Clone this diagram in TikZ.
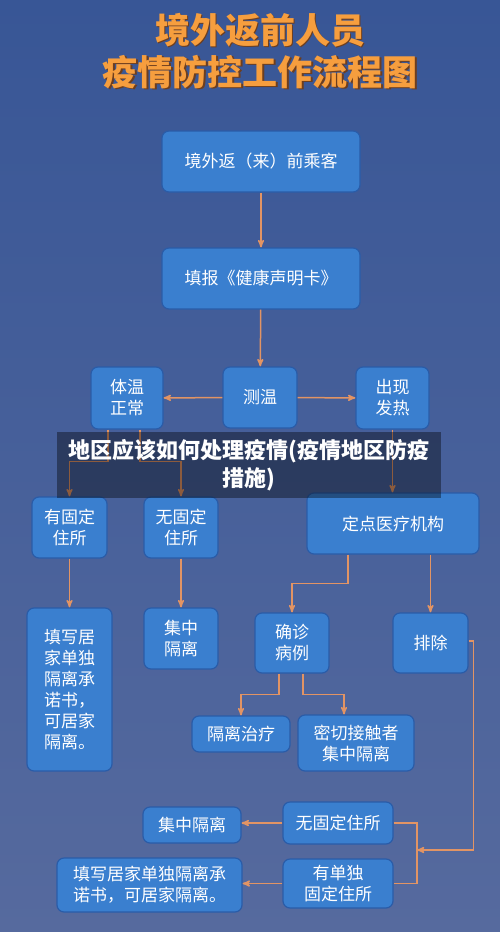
\documentclass[tikz,border=0pt]{standalone}
\usepackage{fontspec}
\newfontfamily\cjk{Noto Sans CJK SC}
\usetikzlibrary{arrows,positioning}
\definecolor{boksfyll}{RGB}{58,127,207}
\definecolor{bokskant}{RGB}{42,92,168}
\definecolor{strekfarge}{RGB}{226,148,100}
\definecolor{tittelfarge}{RGB}{246,158,62}
\definecolor{skygge}{RGB}{110,62,30}
\definecolor{bgtopp}{RGB}{56,86,150}
\definecolor{bgmidt}{RGB}{120,133,172}
\definecolor{bgbunn}{RGB}{86,106,158}
\tikzset{
    %Define standard arrow tip
    >=stealth',
    %Define style for boxes
    boks/.style={
           rectangle,
           rounded corners=7pt,
           draw=bokskant, line width=1.2pt,
           fill=boksfyll,
           text=white,
           font=\cjk\fontsize{17}{21}\selectfont,
           inner sep=0pt,
           align=center},
    % Define arrow style
    pil/.style={
           ->,
           draw=strekfarge,
           line width=1.5pt},
    linje/.style={
           draw=strekfarge,
           line width=1.5pt},
    tittel/.style={
           font=\cjk\bfseries\fontsize{35}{40}\selectfont,
           inner sep=0pt}
}
\begin{document}
\begin{tikzpicture}[x=1pt,y=-1pt]
\useasboundingbox (0,0) rectangle (500,932);
\shade[top color=bgtopp, middle color=bgmidt, bottom color=bgbunn] (0,0) rectangle (500,932);

% title
\node[tittel, text=skygge] at (261.5,31.5) {境外返前人员};
\node[tittel, text=tittelfarge] (tittel1) at (260,30) {境外返前人员};
\node[tittel, text=skygge] at (261.5,73.5) {疫情防控工作流程图};
\node[tittel, text=tittelfarge] (tittel2) at (260,72) {疫情防控工作流程图};

% boxes
\node[boks, minimum width=198pt, minimum height=61pt] (passasjer) at (261,161.5) {境外返（来）前乘客};
\node[boks, minimum width=198pt, minimum height=61pt] (kort) at (261,278.5) {填报《健康声明卡》};
\node[boks, minimum width=72pt, minimum height=62pt] (normal) at (127,398) {体温\\正常};
\node[boks, minimum width=74pt, minimum height=61pt] (maaling) at (260,397.5) {测温};
\node[boks, minimum width=73pt, minimum height=62pt] (feber) at (392.5,398) {出现\\发热};
\node[boks, minimum width=75pt, minimum height=61pt] (fast) at (69.5,527.5) {有固定\\住所};
\node[boks, minimum width=74pt, minimum height=61pt] (ikkefast) at (181,527.5) {无固定\\住所};
\node[boks, minimum width=172pt, minimum height=61pt] (sykehus) at (393,523.5) {定点医疗机构};
\node[boks, minimum width=85pt, minimum height=163pt] (hjemme) at (69.5,689.5) {填写居\\家单独\\隔离承\\诺书，\\可居家\\隔离。};
\node[boks, minimum width=74pt, minimum height=61pt] (samlet) at (181,638.5) {集中\\隔离};
\node[boks, minimum width=74pt, minimum height=60pt] (bekreftet) at (292,643) {确诊\\病例};
\node[boks, minimum width=75pt, minimum height=60pt] (utelukket) at (430.5,643) {排除};
\node[boks, minimum width=98pt, minimum height=36pt] (behandling) at (241,734) {隔离治疗};
\node[boks, minimum width=116pt, minimum height=56pt] (kontakt) at (356,743) {密切接触者\\集中隔离};
\node[boks, minimum width=98pt, minimum height=36pt] (samlet2) at (192,825) {集中隔离};
\node[boks, minimum width=110pt, minimum height=42pt] (ikkefast2) at (338,823) {无固定住所};
\node[boks, minimum width=185pt, minimum height=54pt] (hjemme2) at (149.5,885) {填写居家单独隔离承\\诺书，可居家隔离。};
\node[boks, minimum width=110pt, minimum height=49pt] (eget) at (338,883.5) {有单独\\固定住所};
\coordinate (samling) at (417,850);

% connectors
\path   (passasjer) edge[pil] (kort)
        (kort)      edge[pil] (maaling)
        (maaling)   edge[pil] (normal)
        (maaling)   edge[pil] (feber)
        (fast)      edge[pil] (hjemme)
        (ikkefast)  edge[pil] (samlet);
\draw[pil] (ikkefast2.west) -- (ikkefast2.west -| samlet2.east);
\draw[pil] (eget.west) -- (eget.west -| hjemme2.east);
\draw[pil] ([xshift=-19pt]normal.south) -- ++(0,32) -| (fast.north);
\draw[pil] ([xshift=13pt]normal.south) -- ++(0,32) -| (ikkefast.north);
\draw[pil] (feber.south) -- (feber.south |- sykehus.north);
\draw[pil] ([xshift=-45pt]sykehus.south) -- ++(0,29) -| (bekreftet.north);
\draw[pil] (utelukket.north |- sykehus.south) -- (utelukket.north);
\draw[pil] ([xshift=-13pt]bekreftet.south) -- ++(0,21) -| (behandling.north);
\draw[pil] ([xshift=11pt]bekreftet.south) -- ++(0,21) -| ([xshift=-12pt]kontakt.north);
\draw[pil] ([yshift=2pt]utelukket.east) -- ++(5,0) |- (samling);
\draw[linje] (ikkefast2.east) -| (samling) |- (eget.east);

% caption band
\node[fill=black, fill opacity=0.38, text opacity=1, text=white,
      minimum width=384pt, minimum height=66pt, inner sep=0pt, align=center,
      font=\cjk\bfseries\fontsize{22}{28}\selectfont] (bånd) at (249,465)
      {地区应该如何处理疫情(疫情地区防疫\\措施)};
\end{tikzpicture}
\end{document}
